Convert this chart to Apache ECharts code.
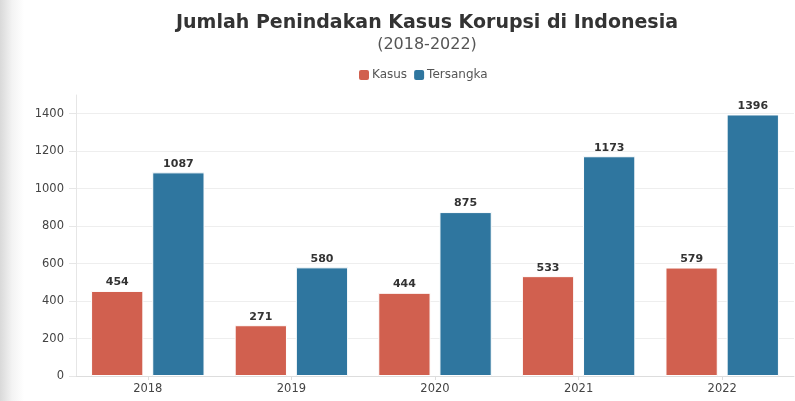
<!DOCTYPE html>
<html><head><meta charset="utf-8">
<script src="https://cdn.jsdelivr.net/npm/echarts@6/dist/echarts.min.js"></script>
<style>html,body{margin:0;padding:0;background:#fff}
#wrap{position:relative;width:795px;height:401px;background:linear-gradient(to right,#d9d9d9 0px,#f3f3f3 12px,#ffffff 24px)}
#c{position:absolute;left:0;top:0;width:795px;height:401px}</style>
</head><body><div id="wrap"><div id="c"></div></div>
<script>
const categories = ['2018','2019','2020','2021','2022'];
const kasus = [454, 271, 444, 533, 579];
const tersangka = [1087, 580, 875, 1173, 1396];
const yMin = 0, yMax = 1500, yInterval = 200;

const chart = echarts.init(document.getElementById('c'), null, {renderer:'canvas'});
const font = '"DejaVu Sans", sans-serif';
const labelCfg = {show:true, position:'top', distance:3, color:'#333', fontWeight:'bold', fontSize:11, fontFamily:font};
chart.setOption({
  animation:false,
  title:{text:'Jumlah Penindakan Kasus Korupsi di Indonesia', subtext:'(2018-2022)', left:422, textAlign:'center', top:9, itemGap:4,
    textStyle:{fontFamily:font, fontWeight:'bold', fontSize:19, color:'#333'},
    subtextStyle:{fontFamily:font, fontSize:16, color:'#555'}},
  legend:{top:63, left:352, itemWidth:12, itemHeight:12, itemGap:5, icon:'roundRect',
    textStyle:{fontFamily:font, fontSize:12, color:'#555', padding:[0,0,0,-3]}},
  grid:{left:76, right:1, top:95, bottom:25, containLabel:false},
  xAxis:{type:'category', data:categories,
    axisLine:{lineStyle:{color:'#ddd'}}, axisTick:{show:true, alignWithLabel:true, length:4, lineStyle:{color:'#ddd'}},
    axisLabel:{fontFamily:font, fontSize:11.5, color:'#444', margin:7}},
  yAxis:{type:'value', min:yMin, max:yMax, interval:yInterval,
    axisLine:{show:true, lineStyle:{color:'#e6e6e6'}}, axisTick:{show:true, length:7, lineStyle:{color:'#e6e6e6'}},
    splitLine:{showMaxLine:false, lineStyle:{color:'#eeeeee'}},
    axisLabel:{fontFamily:font, fontSize:11.5, color:'#444', margin:12, showMaxLabel:false,
      formatter: v => (v % yInterval === 0 ? String(v) : '')}},
  series:[
    {name:'Kasus', type:'bar', data:kasus, barGap:'17%', barCategoryGap:'21%',
     itemStyle:{color:'#D1604F', borderColor:'#fff', borderWidth:1}, label:labelCfg},
    {name:'Tersangka', type:'bar', data:tersangka,
     itemStyle:{color:'#2F769F', borderColor:'#fff', borderWidth:1}, label:labelCfg}
  ]
});
</script></body></html>
